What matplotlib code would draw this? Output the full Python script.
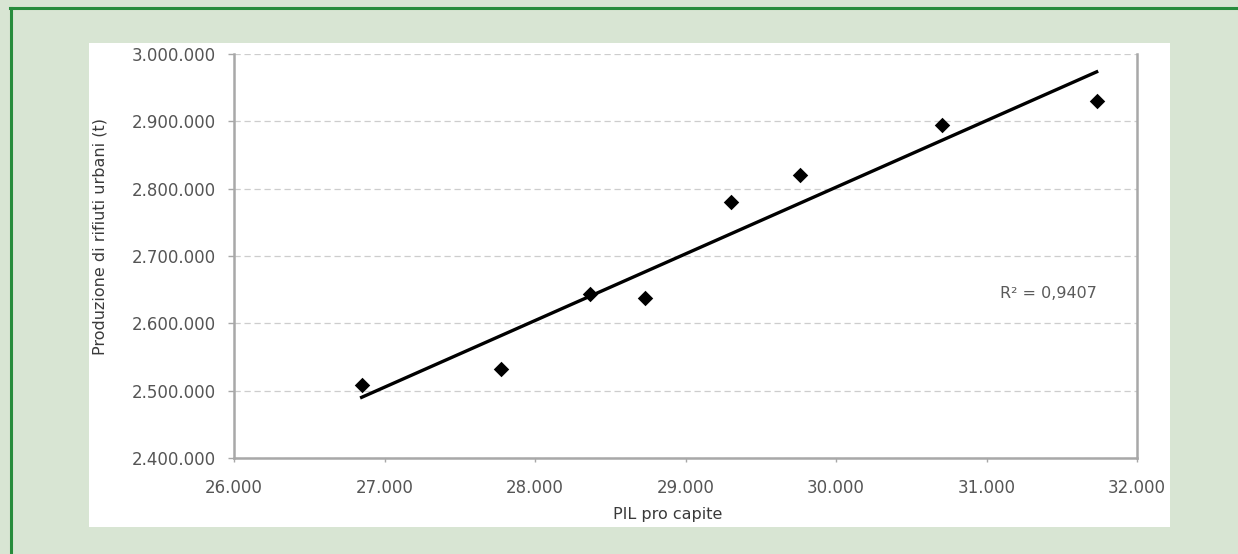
import matplotlib
matplotlib.use("Agg")
import matplotlib.pyplot as plt
import numpy as np
from matplotlib.patches import Rectangle
from matplotlib.lines import Line2D
from matplotlib.ticker import FuncFormatter, MultipleLocator

# PIL pro capite vs produzione di rifiuti urbani (t)
pil = [26848, 27774, 28365, 28731, 29302, 29763, 30702, 31732]
rifiuti = [2508100, 2531450, 2643000, 2637070, 2779860, 2820470, 2894840, 2930540]
r2_label = "R² = 0,9407"
x_label = "PIL pro capite"
y_label = "Produzione di rifiuti urbani (t)"

W, H = 1238, 554
fig = plt.figure(figsize=(W / 100, H / 100), dpi=100)
fig.patch.set_facecolor("#d8e5d3")

# green frame lines (top and left only)
fig.add_artist(Line2D([10 / W, 1], [1 - 8 / H, 1 - 8 / H], color="#278c3c", lw=2.2, zorder=0))
fig.add_artist(Line2D([10.5 / W, 10.5 / W], [0, 1 - 8 / H], color="#278c3c", lw=2.2, zorder=0))

# white panel
fig.add_artist(Rectangle((89 / W, 1 - 527 / H), (1170 - 89) / W, (527 - 43) / H,
                         transform=fig.transFigure, facecolor="white", edgecolor="none",
                         zorder=0))

ax = fig.add_axes([234 / W, 1 - 458 / H, (1137 - 234) / W, (458 - 54) / H])
ax.set_zorder(2)
ax.set_facecolor("white")

ax.scatter(pil, rifiuti, marker="D", s=62, color="black", zorder=4, linewidths=0)

# linear trend line
k, q = np.polyfit(pil, rifiuti, 1)
xs = np.array([min(pil), max(pil)])
ax.plot(xs, k * xs + q, color="black", lw=2.4, zorder=3)

ax.set_xlim(26000, 32000)
ax.set_ylim(2400000, 3000000)
ax.xaxis.set_major_locator(MultipleLocator(1000))
ax.yaxis.set_major_locator(MultipleLocator(100000))
fmt = FuncFormatter(lambda v, p: f"{int(v):,}".replace(",", "."))
ax.xaxis.set_major_formatter(fmt)
ax.yaxis.set_major_formatter(fmt)

ax.grid(axis="y", color="#cdcdcd", lw=0.9, linestyle=(0, (5, 3)))
ax.set_axisbelow(True)
for s in ["left", "bottom", "right"]:
    ax.spines[s].set_color("#a8a8a8")
    ax.spines[s].set_linewidth(1.8)
ax.spines["top"].set_visible(False)

ax.tick_params(axis="y", length=4, width=1, color="#a8a8a8", pad=9,
               labelsize=12, labelcolor="#555555")
ax.tick_params(axis="x", length=3, width=1, color="#a8a8a8", pad=12,
               labelsize=12, labelcolor="#555555")

ax.text(31409, 2645000, r2_label, ha="center", va="center", fontsize=11.5, color="#5a5a5a")

fig.text(668 / W, 1 - 514 / H, x_label, ha="center", va="center", fontsize=11.5,
         color="#3a3a3a", zorder=3)
fig.text(100 / W, 1 - 236 / H, y_label, ha="center", va="center", rotation=90,
         fontsize=11.5, color="#3a3a3a", zorder=3)

fig.savefig("out.png", dpi=100, facecolor=fig.get_facecolor())
